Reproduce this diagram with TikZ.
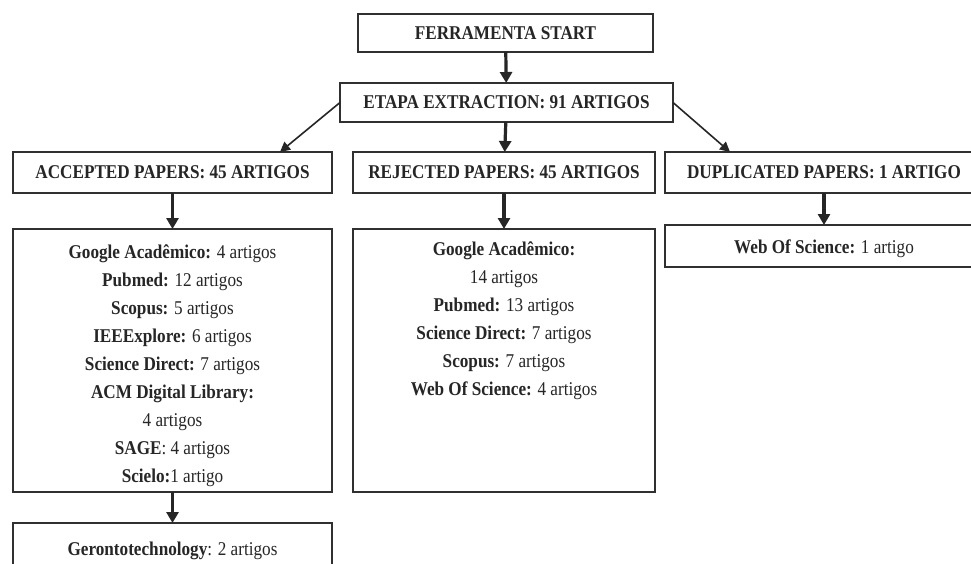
\documentclass[tikz,border=0pt]{standalone}
\usepackage{fontspec}
\setmainfont[FakeStretch=0.88]{Liberation Serif}
\usetikzlibrary{arrows.meta}
\definecolor{ink}{HTML}{262626}
\definecolor{edge}{HTML}{303030}
\tikzset{
  box/.style={draw=edge, line width=1.1pt, inner sep=0pt, outer sep=0pt, align=center, text=ink},
  head/.style={box, font=\bfseries\fontsize{19.5}{22}\selectfont},
  listtxt/.style={inner sep=0pt, align=center, text=ink, font=\fontsize{19.5}{27.9}\selectfont},
  bigarrow/.style={draw=ink, line width=3.2pt, -{Triangle[width=12pt,length=11pt]}},
  diagarrow/.style={draw=ink, line width=1.6pt, -{Triangle[width=10pt,length=10pt]}}
}
\begin{document}
\begin{tikzpicture}[x=1pt,y=-1pt]
\clip (0,0) rectangle (971,563);
\fill[white] (0,0) rectangle (971,563);
% top
\node[head, minimum width=295pt, minimum height=38pt] (start) at (505.5,33) {FERRAMENTA START};
\node[head, minimum width=333pt, minimum height=39pt] (etapa) at (506.5,102.5) {ETAPA EXTRACTION: 91 ARTIGOS};
% headers
\node[head, minimum width=319pt, minimum height=41pt] (acc) at (172.5,172.5) {ACCEPTED PAPERS: 45 ARTIGOS};
\node[head, minimum width=302pt, minimum height=41pt] (rej) at (504,172.5) {REJECTED PAPERS: 45 ARTIGOS};
\node[head, minimum width=318pt, minimum height=41pt] (dup) at (824,172.5) {DUPLICATED PAPERS: 1 ARTIGO};
% lists
\node[box, minimum width=319pt, minimum height=263pt] (acclist) at (172.5,360.5) {};
\node[box, minimum width=302pt, minimum height=263pt] (rejlist) at (504,360.5) {};
\node[box, minimum width=318pt, minimum height=42pt] (duplist) at (824,246) {};
\node[box, minimum width=319pt, minimum height=77pt] (geron) at (172.5,561.5) {};
\node[listtxt, anchor=north] (acctxt) at (172.5,245) {%
\textbf{Google Acadêmico:} 4 artigos\\
\textbf{Pubmed:} 12 artigos\\
\textbf{Scopus:} 5 artigos\\
\textbf{IEEExplore:} 6 artigos\\
\textbf{Science Direct:} 7 artigos\\
\textbf{ACM Digital Library:}\\
4 artigos\\
\textbf{SAGE}: 4 artigos\\
\textbf{Scielo:}1 artigo};
\node[listtxt, anchor=north] (rejtxt) at (504,242) {%
\textbf{Google Acadêmico:}\\
14 artigos\\
\textbf{Pubmed:} 13 artigos\\
\textbf{Science Direct:} 7 artigos\\
\textbf{Scopus:} 7 artigos\\
\textbf{Web Of Science:} 4 artigos};
\node[listtxt] (duptxt) at (824,248.5) {\textbf{Web Of Science:} 1 artigo};
\node[listtxt] (gertxt) at (172.5,550.5) {\textbf{Gerontotechnology}: 2 artigos};
% connectors
\draw[bigarrow] (start) -- (etapa);
\draw[bigarrow] (etapa) -- (rej);
\draw[bigarrow] (acc) -- (acclist);
\draw[bigarrow] (rej) -- (rejlist);
\draw[bigarrow] (dup) -- (duplist);
\draw[bigarrow] (acclist) -- (geron);
\draw[diagarrow] (etapa.west) -- ([xshift=-52pt]acc.north east);
\draw[diagarrow] (etapa.east) -- ([xshift=65pt]dup.north west);
\end{tikzpicture}
\end{document}
